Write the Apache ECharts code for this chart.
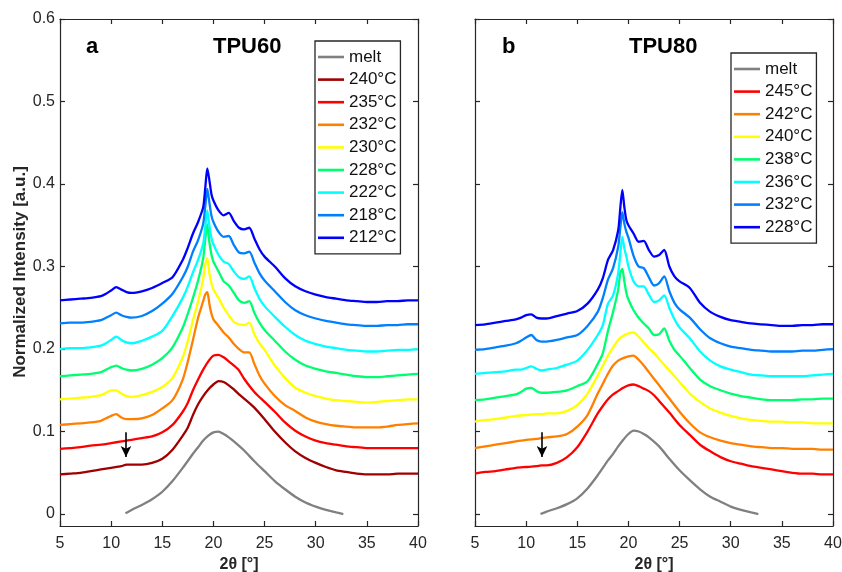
<!DOCTYPE html>
<html><head><meta charset="utf-8">
<script src="https://cdn.jsdelivr.net/npm/echarts@6/dist/echarts.min.js"></script>
<style>html,body{margin:0;padding:0;background:#fff}#c{width:842px;height:572px}</style>
</head><body><div id="c"></div>
<script>
// ---- x grids (2θ, degrees) ----
const xFine = [5,6,7,8,9,9.5,10,10.5,11,11.5,12,13,14,15,16,17,17.5,18,18.5,19,19.2,19.4,19.6,19.8,20,20.5,21,21.5,22,22.5,23,23.5,24,24.5,25,26,27,28,29,30,31,32,33,34,35,36,37,38,39,40];
const xBroad = [5,6,7,8,9,10,11,11.5,12,13,14,15,16,17,17.5,18,18.5,19,19.5,20,20.5,21,21.5,22,22.5,23,24,25,26,27,28,29,30,31,32,33,34,35,36,37,38,39,40];
const xMelt = [11.4,12,13,14,15,16,17,18,18.5,19,19.5,20,20.5,21,21.5,22,23,24,25,26,27,28,29,30,31,32,32.7];

// ---- panel a: TPU60 ----
const aMelt = [.001,.005,.011,.018,.027,.040,.056,.073,.081,.089,.095,.099,.100,.097,.093,.088,.077,.064,.052,.040,.030,.021,.014,.009,.005,.002,.000];
const a240 = [.048,.049,.050,.052,.054,.056,.058,.060,.060,.060,.062,.067,.078,.095,.105,.120,.133,.143,.151,.157,.161,.160,.156,.151,.145,.140,.129,.115,.100,.087,.076,.068,.062,.057,.053,.051,.049,.048,.048,.048,.049,.049,.049];
const a235 = [.079,.080,.081,.083,.084,.086,.088,.089,.090,.092,.094,.099,.108,.124,.135,.150,.163,.175,.185,.192,.193,.190,.185,.180,.174,.164,.148,.136,.124,.111,.101,.094,.089,.086,.084,.082,.081,.080,.080,.080,.080,.080,.080];
const a232 = [.108,.109,.110,.111,.113,.116,.119,.121,.117,.115,.115,.116,.120,.128,.138,.163,.185,.211,.238,.258,.266,.269,.255,.243,.236,.228,.220,.214,.206,.200,.196,.196,.182,.168,.158,.143,.132,.125,.117,.112,.109,.107,.106,.105,.105,.105,.106,.108,.109,.110];
const a230 = [.139,.140,.141,.142,.144,.147,.150,.150,.146,.143,.142,.144,.148,.154,.165,.190,.210,.235,.258,.285,.302,.310,.292,.280,.272,.262,.250,.241,.233,.230,.229,.232,.218,.207,.199,.180,.165,.153,.147,.143,.140,.138,.137,.136,.135,.136,.137,.138,.139,.139];
const a228 = [.167,.168,.169,.170,.172,.175,.178,.180,.177,.175,.174,.176,.181,.189,.202,.226,.243,.262,.283,.310,.333,.351,.330,.315,.306,.294,.282,.277,.268,.259,.256,.258,.244,.232,.223,.210,.197,.187,.180,.176,.173,.171,.169,.167,.166,.166,.167,.168,.169,.170];
const a222 = [.200,.201,.201,.202,.204,.207,.211,.215,.211,.208,.207,.210,.215,.222,.240,.262,.276,.293,.308,.328,.348,.368,.350,.335,.327,.314,.306,.303,.294,.287,.285,.288,.274,.261,.252,.239,.227,.217,.210,.206,.203,.201,.199,.198,.197,.197,.198,.199,.199,.200];
const a218 = [.231,.232,.232,.233,.235,.238,.241,.244,.241,.239,.238,.240,.246,.255,.267,.287,.300,.318,.332,.352,.373,.394,.378,.362,.354,.342,.336,.337,.326,.317,.316,.318,.305,.292,.283,.270,.257,.247,.241,.237,.234,.232,.230,.229,.228,.228,.229,.229,.230,.230];
const a212 = [.259,.260,.261,.262,.264,.267,.271,.275,.272,.269,.268,.270,.274,.280,.287,.308,.323,.340,.354,.372,.395,.419,.405,.388,.380,.368,.362,.365,.355,.347,.345,.347,.334,.321,.312,.300,.286,.276,.270,.266,.263,.261,.259,.258,.257,.257,.258,.258,.259,.259];

// ---- panel b: TPU80 ----
const bMelt = [.000,.003,.007,.012,.019,.031,.047,.065,.073,.082,.090,.097,.101,.100,.097,.093,.082,.067,.053,.041,.030,.021,.015,.009,.005,.002,.000];
const b245 = [.049,.051,.052,.054,.056,.057,.058,.059,.059,.062,.069,.081,.100,.122,.131,.139,.145,.149,.153,.156,.157,.155,.152,.149,.144,.137,.123,.108,.096,.084,.076,.069,.064,.061,.058,.056,.054,.052,.050,.049,.049,.048,.048];
const b242 = [.080,.082,.084,.086,.088,.090,.091,.092,.093,.094,.097,.106,.120,.146,.158,.170,.180,.186,.189,.191,.192,.187,.180,.172,.164,.156,.140,.124,.110,.099,.093,.089,.086,.084,.082,.081,.080,.080,.079,.079,.079,.078,.078];
const b240 = [.112,.114,.115,.117,.119,.120,.121,.121,.122,.122,.125,.132,.146,.168,.180,.192,.202,.211,.216,.219,.220,.215,.208,.201,.195,.188,.174,.160,.146,.136,.128,.123,.119,.116,.114,.113,.112,.112,.111,.111,.110,.110,.110];
const b238 = [.138,.139,.141,.143,.145,.148,.152,.153,.149,.147,.147,.148,.150,.155,.161,.182,.195,.222,.245,.272,.292,.297,.282,.268,.260,.247,.238,.231,.225,.217,.218,.225,.210,.199,.192,.177,.163,.155,.150,.146,.143,.141,.139,.138,.138,.138,.139,.139,.140,.140];
const b236 = [.170,.171,.172,.173,.175,.175,.177,.179,.176,.174,.175,.177,.181,.186,.199,.217,.229,.255,.265,.292,.315,.336,.322,.312,.300,.282,.276,.276,.266,.257,.259,.265,.250,.236,.226,.213,.197,.186,.179,.175,.172,.169,.168,.167,.167,.167,.167,.168,.169,.170];
const b232 = [.199,.200,.202,.204,.207,.210,.214,.217,.211,.209,.209,.211,.214,.217,.228,.245,.262,.284,.298,.324,.346,.366,.352,.342,.335,.313,.300,.298,.287,.277,.280,.288,.270,.256,.248,.238,.224,.213,.207,.203,.201,.199,.198,.197,.197,.197,.198,.198,.199,.200];
const b228 = [.229,.230,.232,.234,.236,.238,.241,.242,.238,.237,.237,.240,.243,.246,.255,.272,.286,.308,.320,.344,.370,.393,.372,.356,.350,.340,.330,.331,.320,.312,.314,.320,.300,.288,.282,.274,.256,.245,.239,.235,.233,.231,.230,.229,.228,.228,.229,.229,.230,.230];

// ---- ticks & labels ----
const xTicks = [5,10,15,20,25,30,35,40];
const yTicks = [0,0.1,0.2,0.3,0.4,0.5,0.6];
const namesA = ['melt','240°C','235°C','232°C','230°C','228°C','222°C','218°C','212°C'];
const namesB = ['melt','245°C','242°C','240°C','238°C','236°C','232°C','228°C'];
const arrowA = [[11.45, 0.099], [11.45, 0.069]];
const arrowB = [[11.55, 0.099], [11.55, 0.069]];

const FONT = "'Liberation Sans', Arial, Helvetica, sans-serif";
const AX = '#262626';
const pairs = (xs, ys) => xs.map((x, i) => [x, ys[i]]);

const panelA = [
  [aMelt, xMelt, '#808080'], [a240, xBroad, '#a00000'], [a235, xBroad, '#ff0000'],
  [a232, xFine, '#ff8000'], [a230, xFine, '#ffff00'], [a228, xFine, '#00ff70'],
  [a222, xFine, '#00ffff'], [a218, xFine, '#0080ff'], [a212, xFine, '#0000ff']
];
const panelB = [
  [bMelt, xMelt, '#808080'], [b245, xBroad, '#ff0000'], [b242, xBroad, '#ff8000'],
  [b240, xBroad, '#ffff00'], [b238, xFine, '#00ff70'], [b236, xFine, '#00ffff'],
  [b232, xFine, '#0080ff'], [b228, xFine, '#0000ff']
];
// right-panel names get an invisible suffix so the two legends stay independent
const namesBkey = namesB.map(n => n + '\u200b');

const series = [];
function addPanel(panel, names, xi, yi, arrow, arrowIdx) {
  panel.forEach((p, i) => {
    const s = {
      type: 'line', name: names[i], xAxisIndex: xi, yAxisIndex: yi,
      data: pairs(p[1], p[0]), showSymbol: false, symbol: 'none', smooth: 0.25,
      lineStyle: { color: p[2], width: 2.3 }, itemStyle: { color: p[2] },
      emphasis: { disabled: true }, silent: true
    };
    if (i === arrowIdx) {
      s.markLine = {
        silent: true, symbol: ['none', 'arrow'], symbolSize: [8, 11],
        label: { show: false }, lineStyle: { color: '#000', width: 1.6, type: 'solid' },
        data: [[{ coord: arrow[0] }, { coord: arrow[1] }]]
      };
    }
    series.push(s);
  });
}
addPanel(panelA, namesA, 0, 0, arrowA, 1);
addPanel(panelB, namesBkey, 2, 2, arrowB, 1);

const axisLine = { show: true, onZero: false, lineStyle: { color: AX, width: 1.2 } };
const tick = (vals) => ({ show: true, inside: true, length: 5, lineStyle: { color: AX, width: 1.2 }, customValues: vals });
function xAx(grid, pos, label) {
  return {
    gridIndex: grid, type: 'value', min: 5, max: 40, interval: 5, position: pos,
    axisLine, axisTick: tick(xTicks), splitLine: { show: false },
    axisLabel: { show: label, fontSize: 16, color: AX, margin: 10, fontFamily: FONT, customValues: xTicks },
    name: label ? '2θ [°]' : '', nameLocation: 'middle', nameGap: 29,
    nameTextStyle: { fontSize: 16, fontWeight: 'bold', color: AX, fontFamily: FONT }
  };
}
function yAx(grid, pos, label) {
  return {
    gridIndex: grid, type: 'value', min: -0.0145, max: 0.6, position: pos,
    axisLine, axisTick: tick(yTicks), splitLine: { show: false },
    axisLabel: { show: label, fontSize: 16, color: AX, margin: 5, fontFamily: FONT, customValues: yTicks,
      formatter: v => String(Math.round(v * 10) / 10) }
  };
}
const legendBase = {
  orient: 'vertical', icon: 'rect', itemWidth: 26, itemHeight: 2.6, itemGap: 2.6, padding: [6, 4, 6, 3],
  borderColor: AX, borderWidth: 1.3, backgroundColor: '#fff', selectedMode: false,
  textStyle: { fontSize: 17, color: '#111', lineHeight: 20, fontFamily: FONT }
};

const chart = echarts.init(document.getElementById('c'), null, { renderer: 'canvas' });
chart.setOption({
  animation: false,
  backgroundColor: '#fff',
  textStyle: { fontFamily: FONT },
  grid: [
    { left: 60, top: 19, width: 358, height: 507, containLabel: false, outerBoundsMode: 'none' },
    { left: 475, top: 19, width: 358, height: 507, containLabel: false, outerBoundsMode: 'none' }
  ],
  xAxis: [xAx(0, 'bottom', true), xAx(0, 'top', false), xAx(1, 'bottom', true), xAx(1, 'top', false)],
  yAxis: [yAx(0, 'left', true), yAx(0, 'right', false), yAx(1, 'left', false), yAx(1, 'right', false)],
  legend: [
    Object.assign({}, legendBase, { data: namesA, left: 315, top: 41 }),
    Object.assign({}, legendBase, { data: namesBkey, left: 731, top: 53,
      formatter: n => n.replace('\u200b', '') })
  ],
  graphic: [
    { type: 'text', left: 86, top: 36, style: { text: 'a', font: "bold 22px " + FONT, fill: '#000' } },
    { type: 'text', left: 213, top: 36, style: { text: 'TPU60', font: "bold 22px " + FONT, fill: '#000' } },
    { type: 'text', left: 502, top: 36, style: { text: 'b', font: "bold 22px " + FONT, fill: '#000' } },
    { type: 'text', left: 629, top: 36, style: { text: 'TPU80', font: "bold 22px " + FONT, fill: '#000' } },
    { type: 'text', x: 20, y: 272, rotation: Math.PI / 2,
      style: { text: 'Normalized Intensity [a.u.]', font: "bold 17px " + FONT, fill: AX, align: 'center', verticalAlign: 'middle' } }
  ],
  series
});
</script></body></html>
